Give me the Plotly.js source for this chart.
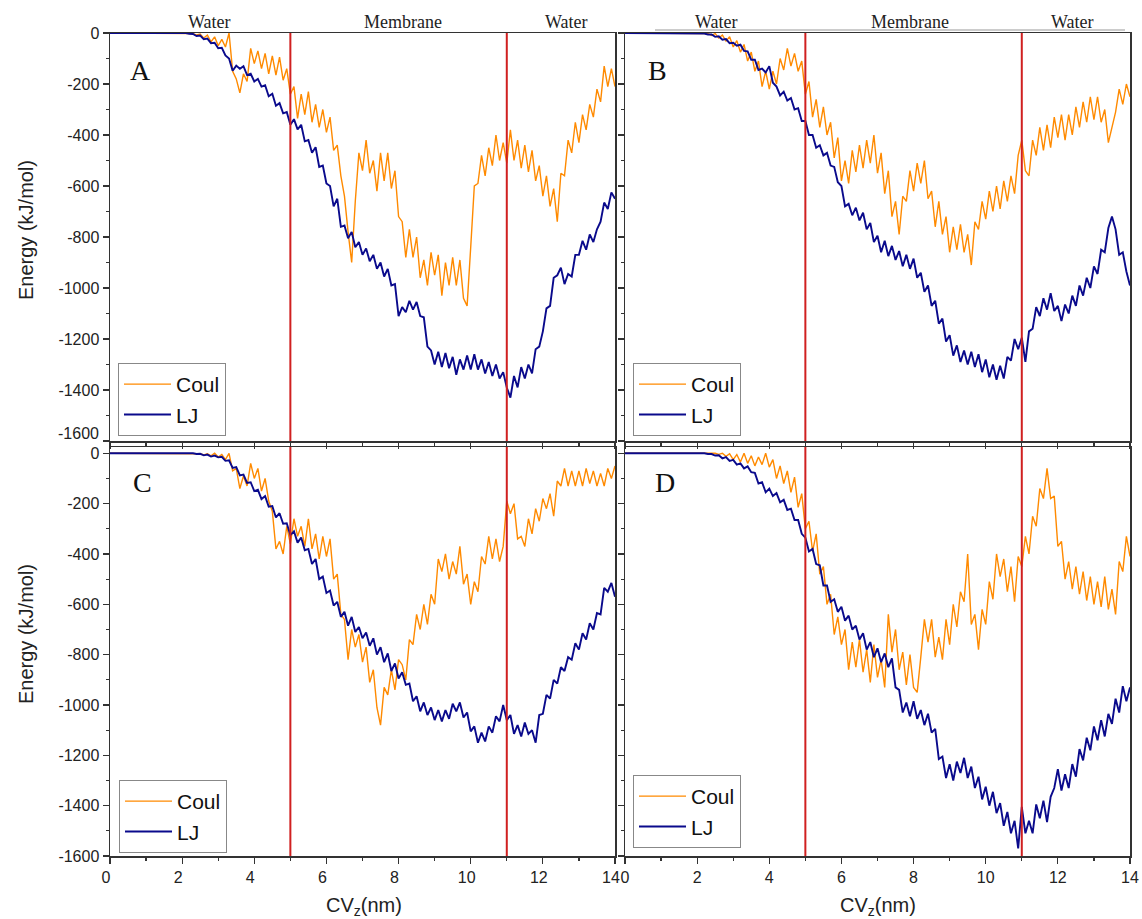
<!DOCTYPE html>
<html>
<head>
<meta charset="utf-8">
<script src="https://cdn.plot.ly/plotly-3.0.1.min.js"></script>
<style>html,body{margin:0;padding:0;background:#fff;}#chart{width:1142px;height:919px;}</style>
</head>
<body>
<div id="chart"></div>
<script>
// ---------- data ----------
const X = [0,1,
2.0,2.1,2.2,2.3,2.4,2.5,2.6,2.7,2.8,2.9,
3.0,3.1,3.2,3.3,3.4,3.5,3.6,3.7,3.8,3.9,
4.0,4.1,4.2,4.3,4.4,4.5,4.6,4.7,4.8,4.9,
5.0,5.1,5.2,5.3,5.4,5.5,5.6,5.7,5.8,5.9,
6.0,6.1,6.2,6.3,6.4,6.5,6.6,6.7,6.8,6.9,
7.0,7.1,7.2,7.3,7.4,7.5,7.6,7.7,7.8,7.9,
8.0,8.1,8.2,8.3,8.4,8.5,8.6,8.7,8.8,8.9,
9.0,9.1,9.2,9.3,9.4,9.5,9.6,9.7,9.8,9.9,
10.0,10.1,10.2,10.3,10.4,10.5,10.6,10.7,10.8,10.9,
11.0,11.1,11.2,11.3,11.4,11.5,11.6,11.7,11.8,11.9,
12.0,12.1,12.2,12.3,12.4,12.5,12.6,12.7,12.8,12.9,
13.0,13.1,13.2,13.3,13.4,13.5,13.6,13.7,13.8,13.9,
14.0];

const A_coul = [0,0,
0,0,0,-2,-8,-4,-20,-8,-35,-15,
-50,-25,-55,0,-150,-180,-235,-160,-190,-60,
-120,-70,-140,-80,-160,-90,-165,-95,-185,-140,
-240,-210,-335,-240,-320,-230,-350,-280,-370,-300,
-390,-330,-460,-440,-560,-640,-780,-900,-660,-470,
-540,-420,-550,-500,-620,-470,-580,-470,-610,-540,
-720,-740,-880,-770,-880,-800,-960,-890,-990,-860,
-950,-870,-1030,-900,-990,-880,-990,-890,-1040,-1070,
-840,-600,-590,-480,-560,-450,-520,-400,-500,-430,
-510,-380,-500,-420,-530,-440,-545,-460,-580,-520,
-640,-560,-680,-610,-740,-550,-560,-420,-470,-350,
-430,-320,-380,-280,-330,-220,-270,-130,-210,-140,
-210];
const A_lj = [0,0,
0,0,-3,-4,-12,-10,-24,-22,-40,-38,
-60,-58,-88,-100,-148,-128,-140,-130,-165,-160,
-190,-180,-210,-205,-248,-238,-285,-275,-315,-310,
-360,-338,-378,-360,-425,-420,-470,-448,-525,-520,
-590,-600,-680,-650,-760,-755,-805,-780,-840,-820,
-870,-845,-895,-870,-925,-900,-955,-925,-990,-985,
-1110,-1075,-1095,-1050,-1085,-1055,-1110,-1115,-1230,-1245,
-1300,-1250,-1310,-1255,-1315,-1270,-1340,-1280,-1320,-1265,
-1320,-1260,-1320,-1280,-1335,-1290,-1345,-1300,-1355,-1330,
-1390,-1430,-1345,-1390,-1310,-1355,-1300,-1335,-1240,-1230,
-1170,-1080,-1070,-960,-950,-920,-985,-945,-955,-870,
-870,-815,-850,-790,-820,-770,-740,-665,-690,-625,
-650];

const B_coul = [0,0,
0,0,0,-2,-10,-2,-20,-8,-32,-15,
-55,-30,-75,-45,-110,-75,-150,-110,-210,-150,
-220,-150,-200,-100,-145,-60,-130,-80,-150,-110,
-240,-190,-330,-260,-370,-290,-400,-350,-490,-410,
-580,-500,-590,-460,-545,-440,-530,-420,-510,-400,
-550,-470,-630,-540,-720,-660,-790,-640,-660,-540,
-620,-510,-590,-500,-650,-620,-760,-660,-790,-720,
-860,-760,-850,-750,-860,-790,-910,-740,-770,-660,
-730,-620,-700,-600,-690,-580,-660,-560,-630,-480,
-420,-540,-560,-420,-480,-370,-460,-360,-450,-330,
-410,-320,-420,-320,-400,-290,-370,-270,-350,-250,
-340,-250,-350,-300,-430,-370,-310,-220,-280,-200,
-250];
const B_lj = [0,0,
0,0,-2,-6,-6,-15,-13,-26,-24,-40,
-38,-50,-46,-70,-72,-105,-105,-145,-140,-155,
-130,-195,-210,-245,-230,-265,-255,-300,-295,-345,
-345,-400,-400,-450,-440,-480,-470,-520,-525,-585,
-600,-680,-670,-715,-685,-735,-705,-770,-745,-820,
-795,-860,-815,-875,-835,-890,-855,-915,-870,-925,
-885,-960,-940,-1015,-990,-1070,-1050,-1140,-1120,-1210,
-1185,-1265,-1225,-1290,-1245,-1300,-1250,-1310,-1260,-1330,
-1280,-1350,-1300,-1360,-1305,-1355,-1270,-1285,-1200,-1240,
-1195,-1290,-1170,-1160,-1075,-1110,-1040,-1085,-1020,-1090,
-1070,-1130,-1065,-1100,-1030,-1070,-990,-1030,-960,-1000,
-915,-945,-850,-860,-765,-720,-770,-870,-860,-935,
-990];

const C_coul = [0,0,
0,0,0,0,0,-2,-6,-2,-10,0,
-15,-5,-25,0,-70,-60,-140,-90,-130,-40,
-100,-60,-150,-100,-190,-230,-380,-350,-400,-290,
-360,-260,-330,-290,-370,-260,-380,-320,-420,-330,
-410,-340,-500,-480,-640,-660,-820,-700,-770,-720,
-830,-770,-910,-860,-1010,-1080,-930,-960,-860,-940,
-820,-840,-900,-740,-760,-640,-700,-600,-680,-560,
-600,-420,-470,-400,-500,-430,-480,-370,-520,-480,
-600,-510,-550,-410,-440,-330,-420,-340,-430,-370,
-190,-240,-200,-340,-330,-370,-260,-320,-220,-270,
-180,-220,-160,-250,-110,-130,-60,-130,-70,-130,
-70,-130,-60,-120,-70,-130,-80,-130,-60,-100,
-50];
const C_lj = [0,0,
0,0,0,0,-3,-2,-8,-5,-13,-9,
-16,-14,-30,-28,-58,-55,-88,-85,-118,-115,
-150,-145,-182,-170,-212,-210,-255,-238,-280,-278,
-325,-310,-355,-335,-385,-380,-440,-420,-500,-490,
-555,-545,-605,-590,-650,-630,-685,-650,-710,-690,
-735,-712,-765,-735,-800,-770,-830,-795,-865,-835,
-895,-870,-920,-915,-985,-965,-1025,-990,-1040,-1010,
-1060,-1020,-1065,-1020,-1055,-995,-1025,-990,-1050,-1030,
-1105,-1085,-1150,-1110,-1145,-1085,-1110,-1045,-1065,-1000,
-1060,-1040,-1115,-1080,-1125,-1070,-1115,-1100,-1150,-1040,
-1035,-960,-975,-900,-915,-850,-865,-810,-820,-755,
-780,-715,-740,-675,-700,-635,-640,-535,-550,-515,
-570];

const D_coul = [0,0,
0,0,0,0,0,0,-4,0,-12,-2,
-25,-5,-35,0,-40,-10,-50,-15,-45,0,
-55,-25,-100,-50,-120,-70,-155,-95,-215,-160,
-300,-270,-390,-320,-480,-450,-600,-560,-720,-650,
-760,-700,-860,-750,-850,-740,-870,-780,-910,-760,
-890,-820,-930,-640,-790,-700,-860,-790,-920,-800,
-930,-950,-810,-660,-750,-660,-810,-730,-820,-660,
-760,-600,-690,-550,-590,-400,-680,-640,-780,-620,
-680,-510,-580,-400,-490,-420,-550,-450,-590,-410,
-450,-330,-400,-250,-290,-140,-180,-60,-180,-170,
-370,-350,-500,-430,-540,-450,-560,-470,-585,-490,
-600,-510,-610,-490,-620,-540,-640,-430,-470,-330,
-410];
const D_lj = [0,0,
0,0,0,-3,-3,-9,-8,-20,-15,-30,
-26,-45,-40,-60,-52,-75,-78,-120,-115,-155,
-140,-170,-158,-195,-185,-225,-220,-265,-265,-320,
-335,-390,-380,-440,-445,-525,-525,-590,-580,-630,
-610,-665,-645,-700,-685,-740,-715,-780,-750,-810,
-775,-830,-795,-850,-815,-930,-940,-1030,-990,-1045,
-985,-1055,-1020,-1080,-1035,-1110,-1095,-1215,-1205,-1290,
-1235,-1300,-1225,-1270,-1210,-1290,-1245,-1330,-1285,-1375,
-1325,-1400,-1345,-1430,-1390,-1480,-1425,-1510,-1460,-1570,
-1405,-1510,-1460,-1510,-1395,-1450,-1380,-1465,-1365,-1330,
-1255,-1340,-1275,-1330,-1235,-1285,-1175,-1220,-1130,-1180,
-1085,-1140,-1060,-1125,-1035,-1075,-975,-1030,-925,-985,
-930];

const seriesNames = ['Coul', 'LJ'];
const panelLetters = ['A', 'B', 'C', 'D'];
const regionLabels = ['Water', 'Membrane', 'Water'];
const boundaries = [5, 11];
const yTickVals = [0, -200, -400, -600, -800, -1000, -1200, -1400, -1600];
const yTickText = ['0', '-200', '-400', '-600', '-800', '-1000', '-1200', '-1400', '-1600'];
const xTickVals = [0, 2, 4, 6, 8, 10, 12, 14];
const xTickText = ['0', '2', '4', '6', '8', '10', '12', '14'];

// ---------- styling / layout ----------
const COUL = '#FF8A00';
const LJ = '#0A0A8C';
const RED = '#D02020';
const W = 1142, H = 919;
const px = v => v / W;
const py = v => 1 - v / H;
const sans = 'Arial, "Liberation Sans", sans-serif';
const serif = '"Times New Roman", "Liberation Serif", serif';

const panels = [
  {coul: A_coul, lj: A_lj, xa: 'x',  ya: 'y',  leg: 'legend'},
  {coul: B_coul, lj: B_lj, xa: 'x2', ya: 'y2', leg: 'legend2'},
  {coul: C_coul, lj: C_lj, xa: 'x3', ya: 'y3', leg: 'legend3'},
  {coul: D_coul, lj: D_lj, xa: 'x4', ya: 'y4', leg: 'legend4'}
];

const traces = [];
panels.forEach(p => {
  traces.push({x: X, y: p.coul, type: 'scatter', mode: 'lines', name: seriesNames[0],
    xaxis: p.xa, yaxis: p.ya, legend: p.leg, line: {color: COUL, width: 1.4}});
  traces.push({x: X, y: p.lj, type: 'scatter', mode: 'lines', name: seriesNames[1],
    xaxis: p.xa, yaxis: p.ya, legend: p.leg, line: {color: LJ, width: 1.9}});
});

const tickFont = {family: sans, size: 16, color: '#222'};
function xax(dom, labels, anchor, shift) {
  return {domain: dom, range: [0, 14], anchor: anchor, showgrid: false, zeroline: false,
    showline: true, mirror: true, linecolor: '#333', linewidth: 1.5,
    tickmode: 'array', tickvals: xTickVals, ticktext: xTickText,
    ticks: 'outside', ticklen: 6, tickwidth: 1.2, tickcolor: '#333', ticklabelshift: shift,
    minor: {tickmode: 'linear', tick0: 1, dtick: 2, ticks: 'outside', ticklen: 3, tickcolor: '#333'},
    showticklabels: labels, tickfont: tickFont, fixedrange: true};
}
function yax(dom, rng, labels, anchor, ttext) {
  return {domain: dom, range: rng, anchor: anchor, showgrid: false, zeroline: false,
    showline: true, mirror: true, linecolor: '#333', linewidth: 1.5,
    tickmode: 'array', tickvals: yTickVals, ticktext: ttext,
    ticks: 'outside', ticklen: 6, tickwidth: 1.2, tickcolor: '#333',
    minor: {tickmode: 'linear', tick0: -100, dtick: 200, ticks: 'outside', ticklen: 3, tickcolor: '#333'},
    showticklabels: labels, tickfont: tickFont, fixedrange: true};
}

// the top-left panel's lowest label sits a little above its tick (as in the reference),
// so it is drawn as an annotation instead of on the axis
const yTickTextTop = yTickText.map((t, i) => i === yTickText.length - 1 ? '' : t);

const leftDom = [px(110), px(615)];
const rightDom = [px(625), px(1130)];
const topDom = [py(441), py(33)];
const botDom = [py(856), py(447)];

const legendBase = {bgcolor: '#fff', bordercolor: '#888', borderwidth: 1,
  font: {family: sans, size: 21, color: '#111'},
  xanchor: 'left', yanchor: 'top', tracegroupgap: 0, itemwidth: 47};

const shapes = [];
[['x', 'y'], ['x2', 'y2'], ['x3', 'y3'], ['x4', 'y4']].forEach(([xa, ya]) => {
  boundaries.forEach(b => shapes.push({type: 'line', xref: xa, yref: ya + ' domain',
    x0: b, x1: b, y0: 0, y1: 1, line: {color: RED, width: 2}}));
});
shapes.push({type: 'line', xref: 'paper', yref: 'paper', x0: px(655), x1: px(1125),
  y0: py(30), y1: py(30), line: {color: '#999', width: 1}});

const annotations = [];
const regionPosTop = [[209, 403, 566], [716, 910, 1072]];
regionPosTop.forEach(row => row.forEach((xc, i) => annotations.push({text: regionLabels[i],
  xref: 'paper', yref: 'paper', x: px(xc), y: py(22), showarrow: false,
  xanchor: 'center', yanchor: 'middle', font: {family: serif, size: 18, color: '#222'}})));
const letterPos = [[140, 70], [657, 70], [142, 483], [665, 483]];
panelLetters.forEach((L, i) => annotations.push({text: L, xref: 'paper', yref: 'paper',
  x: px(letterPos[i][0]), y: py(letterPos[i][1]), showarrow: false, xanchor: 'center', yanchor: 'middle',
  font: {family: serif, size: 28, color: '#111'}}));
[230, 634].forEach(yc => annotations.push({text: 'Energy (kJ/mol)', xref: 'paper', yref: 'paper',
  x: px(26), y: py(yc), textangle: -90, showarrow: false, xanchor: 'center', yanchor: 'middle',
  font: {family: sans, size: 20, color: '#222'}}));
[364, 878].forEach(xc => annotations.push({text: 'CV<sub>z</sub>(nm)', xref: 'paper', yref: 'paper',
  x: px(xc), y: py(906), showarrow: false, xanchor: 'center', yanchor: 'middle',
  font: {family: sans, size: 20, color: '#222'}}));
annotations.push({text: yTickText[yTickText.length - 1], xref: 'paper', yref: 'paper',
  x: px(101), y: py(433), showarrow: false, xanchor: 'right', yanchor: 'middle',
  font: tickFont});

const layout = {
  width: W, height: H, margin: {l: 0, r: 0, t: 0, b: 0},
  paper_bgcolor: '#fff', plot_bgcolor: '#fff', showlegend: true,
  xaxis: xax(leftDom, false, 'y', 0),
  yaxis: yax(topDom, [-1600, 0], true, 'x', yTickTextTop),
  xaxis2: xax(rightDom, false, 'y2', 0),
  yaxis2: yax(topDom, [-1600, 0], false, 'x2', yTickText),
  xaxis3: xax(leftDom, true, 'y3', -4),
  yaxis3: yax(botDom, [-1600, 25], true, 'x3', yTickText),
  xaxis4: xax(rightDom, true, 'y4', 0),
  yaxis4: yax(botDom, [-1600, 25], false, 'x4', yTickText),
  legend: Object.assign({}, legendBase, {x: px(118), y: py(363)}),
  legend2: Object.assign({}, legendBase, {x: px(633), y: py(363)}),
  legend3: Object.assign({}, legendBase, {x: px(119), y: py(780)}),
  legend4: Object.assign({}, legendBase, {x: px(633), y: py(775)}),
  shapes: shapes, annotations: annotations
};

Plotly.newPlot('chart', traces, layout, {displayModeBar: false, staticPlot: true});
</script>
</body>
</html>
